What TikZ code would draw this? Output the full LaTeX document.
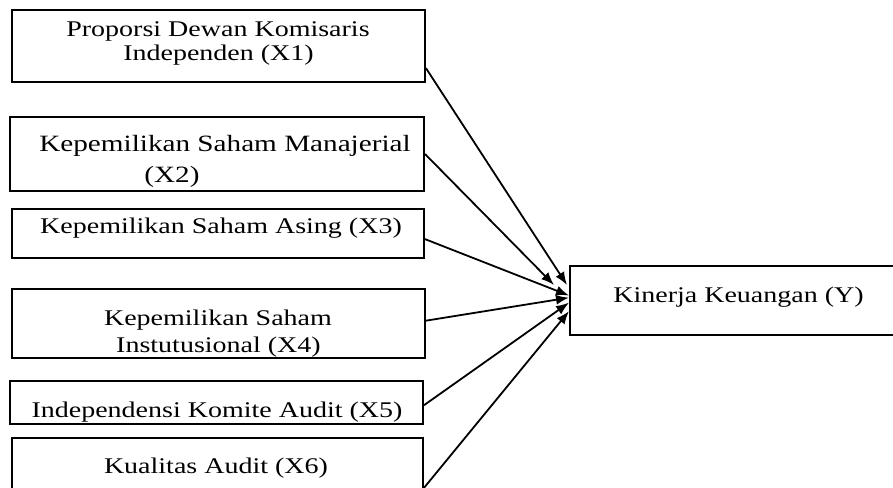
\documentclass[tikz,border=0pt]{standalone}
\usepackage{fontspec}
\setmainfont{Liberation Serif}
\usetikzlibrary{arrows.meta,calc}
\tikzset{
  box/.style={draw=black, line width=1pt, inner sep=0pt, fill=none},
  txt/.style={anchor=base, inner sep=0pt, font=\fontsize{14}{16}\selectfont},
  arr/.style={line width=0.9pt, -{Latex[length=6.5pt,width=5pt]}}
}
\newcommand{\sq}[1]{\scalebox{1}[0.8]{#1}}
\begin{document}
\begin{tikzpicture}[x=0.5pt,y=-0.5pt]
\useasboundingbox (0,0) rectangle (893,487);
\clip (0,0) rectangle (893,487);
% boxes
\node[box, minimum width=206.5pt, minimum height=36pt] (b1) at (218.5,46) {};
\node[box, minimum width=207pt, minimum height=37pt] (b2) at (217,154) {};
\node[box, minimum width=206pt, minimum height=24.5pt] (b3) at (218,233.5) {};
\node[box, minimum width=206.5pt, minimum height=34.5pt] (b4) at (218.5,323.5) {};
\node[box, minimum width=206.5pt, minimum height=21.5pt] (b5) at (216.5,402.5) {};
\node[box, minimum width=205.5pt, minimum height=30pt] (b6) at (217.5,468) {};
\node[box, minimum width=165pt, minimum height=34.5pt] (y) at (735,300.5) {};
% texts
\node[txt] (t1a) at (218,36) {\sq{Proporsi Dewan Komisaris}};
\node[txt] (t1b) at (218.5,60) {\sq{Independen (X1)}};
\node[txt, font=\fontsize{14.6}{16}\selectfont] (t2a) at (225,151) {\sq{Kepemilikan Saham Manajerial}};
\node[txt, font=\fontsize{14.6}{16}\selectfont] (t2b) at (172,182) {\sq{(X2)}};
\node[txt] (t3) at (221,233) {\sq{Kepemilikan Saham Asing (X3)}};
\node[txt] (t4a) at (218,325) {\sq{Kepemilikan Saham}};
\node[txt] (t4b) at (218.5,352) {\sq{Instutusional (X4)}};
\node[txt] (t5) at (217,417) {\sq{Independensi Komite Audit (X5)}};
\node[txt] (t6) at (216,473) {\sq{Kualitas Audit (X6)}};
\node[txt] (ty) at (738.5,302) {\sq{Kinerja Keuangan (Y)}};
% arrow tips
\coordinate (e1) at (567,285);
\coordinate (e2) at (554,285);
% arrows
\draw[arr] ($(b1.north east)!0.8!(b1.south east)$) -- (e1);
\draw[arr] (b2.east) -- (e2);
\draw[arr] ($(b3.north east)!0.61!(b3.south east)$) -- ($(y.north west)!0.43!(y.south west)$);
\draw[arr] ($(b4.north east)!0.46!(b4.south east)$) -- ($(y.north west)!0.46!(y.south west)$);
\draw[arr] ($(b5.north east)!0.56!(b5.south east)$) -- ($(y.north west)!0.53!(y.south west)$);
\draw[arr] ($(b6.north east)!0.82!(b6.south east)$) -- ($(y.north west)!0.65!(y.south west)$);
\end{tikzpicture}
\end{document}
